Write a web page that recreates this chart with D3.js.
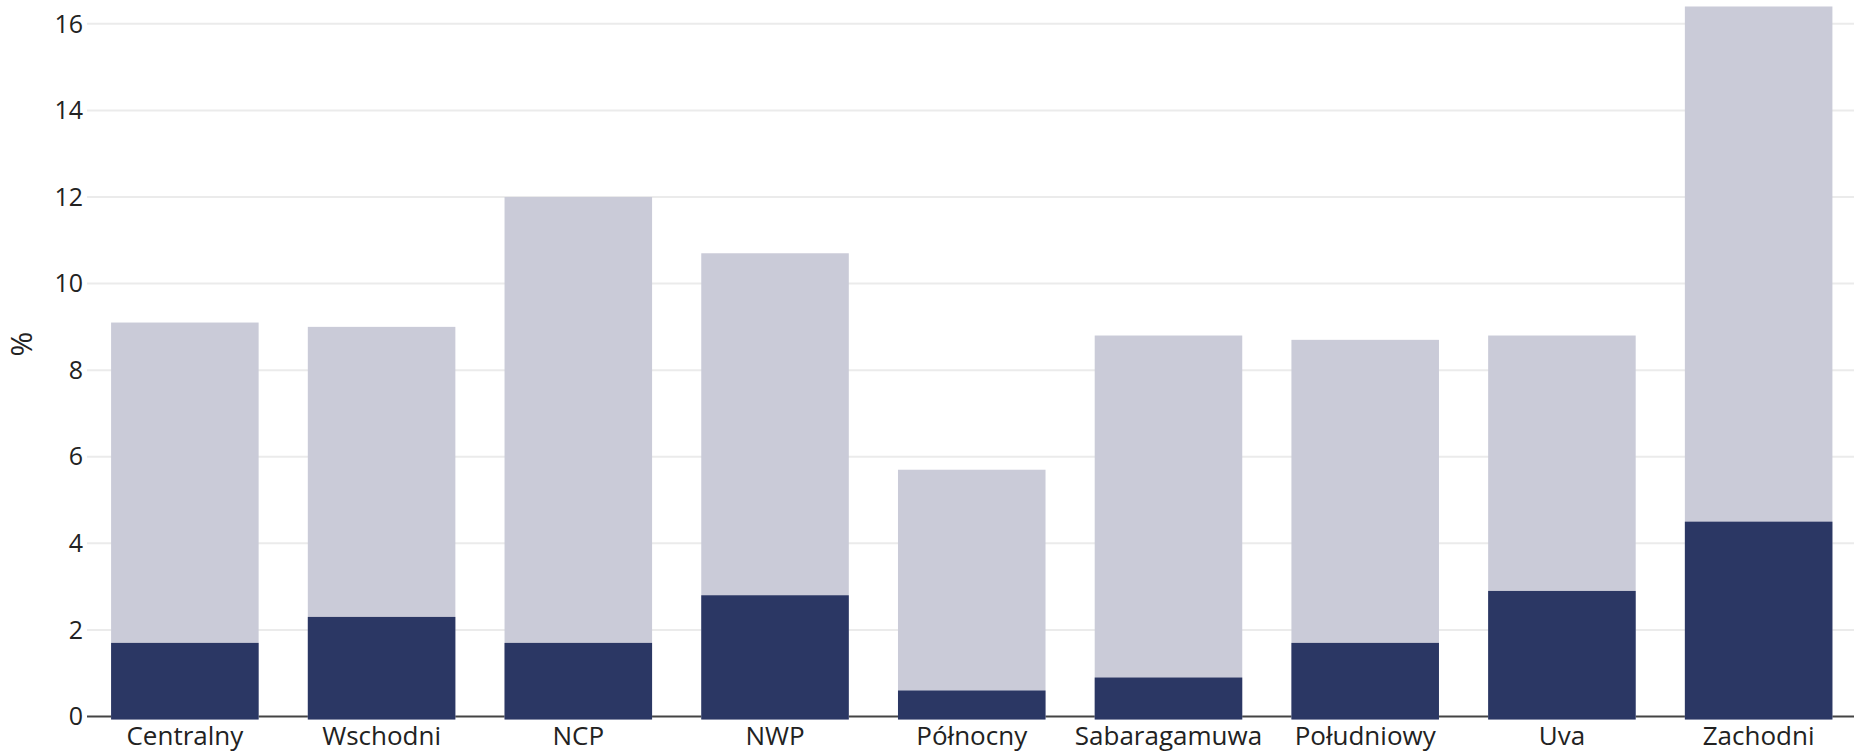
<!DOCTYPE html>
<html>
<head>
<meta charset="utf-8">
<script src="https://cdn.jsdelivr.net/npm/d3@7.9.0/dist/d3.min.js"></script>
<style>
  body { margin: 0; background: #fff; }
  svg { display: block; font-family: "Open Sans", sans-serif; }
</style>
</head>
<body>
<svg id="chart" width="1854" height="752"></svg>
<script>
// Regions and values (%)
const regions = ['Centralny', 'Wschodni', 'NCP', 'NWP', 'Północny', 'Sabaragamuwa', 'Południowy', 'Uva', 'Zachodni'];
const totalValues = [9.1, 9.0, 12.0, 10.7, 5.7, 8.8, 8.7, 8.8, 16.4];
const partValues = [1.7, 2.3, 1.7, 2.8, 0.6, 0.9, 1.7, 2.9, 4.5];
const yTicks = [0, 2, 4, 6, 8, 10, 12, 14, 16];

const svg = d3.select('#chart');
const left = 86.5, right = 1857, bottom = 716.5;

const x = d3.scaleBand()
    .domain(regions)
    .range([left, right])
    .paddingInner(0.25)
    .paddingOuter(0.125);

const y = d3.scaleLinear()
    .domain([0, 16.55])
    .range([bottom, 0]);

// Gridlines
svg.append('g')
    .selectAll('line')
    .data(yTicks.filter(d => d > 0))
    .join('line')
    .attr('x1', 87).attr('x2', 1854)
    .attr('y1', d => y(d)).attr('y2', d => y(d))
    .attr('stroke', '#ebebeb')
    .attr('stroke-width', 2);

// Baseline
svg.append('line')
    .attr('x1', 87).attr('x2', 1854)
    .attr('y1', y(0)).attr('y2', y(0))
    .attr('stroke', '#444')
    .attr('stroke-width', 2);

// Y tick labels
svg.append('g')
    .selectAll('text')
    .data(yTicks)
    .join('text')
    .attr('x', 83)
    .attr('y', d => y(d))
    .attr('dy', '0.35em')
    .attr('text-anchor', 'end')
    .attr('font-size', 25)
    .attr('fill', '#222')
    .text(d => d);

// Y axis title
svg.append('text')
    .attr('transform', 'translate(21,344) rotate(-90)')
    .attr('text-anchor', 'middle')
    .attr('dy', '0.35em')
    .attr('font-size', 30)
    .attr('fill', '#222')
    .text('%');

// Total bars (light)
svg.append('g')
    .selectAll('rect')
    .data(regions)
    .join('rect')
    .attr('x', d => x(d))
    .attr('width', x.bandwidth())
    .attr('y', (d, i) => y(totalValues[i]))
    .attr('height', (d, i) => y(0) - y(totalValues[i]) + 3)
    .attr('fill', '#cacbd8');

// Part bars (dark)
svg.append('g')
    .selectAll('rect')
    .data(regions)
    .join('rect')
    .attr('x', d => x(d))
    .attr('width', x.bandwidth())
    .attr('y', (d, i) => y(partValues[i]))
    .attr('height', (d, i) => y(0) - y(partValues[i]) + 3)
    .attr('fill', '#2b3764');

// X labels
svg.append('g')
    .selectAll('text')
    .data(regions)
    .join('text')
    .attr('x', d => x(d) + x.bandwidth() / 2)
    .attr('y', 745)
    .attr('text-anchor', 'middle')
    .attr('font-size', 26)
    .attr('fill', '#222')
    .text(d => d);
</script>
</body>
</html>
